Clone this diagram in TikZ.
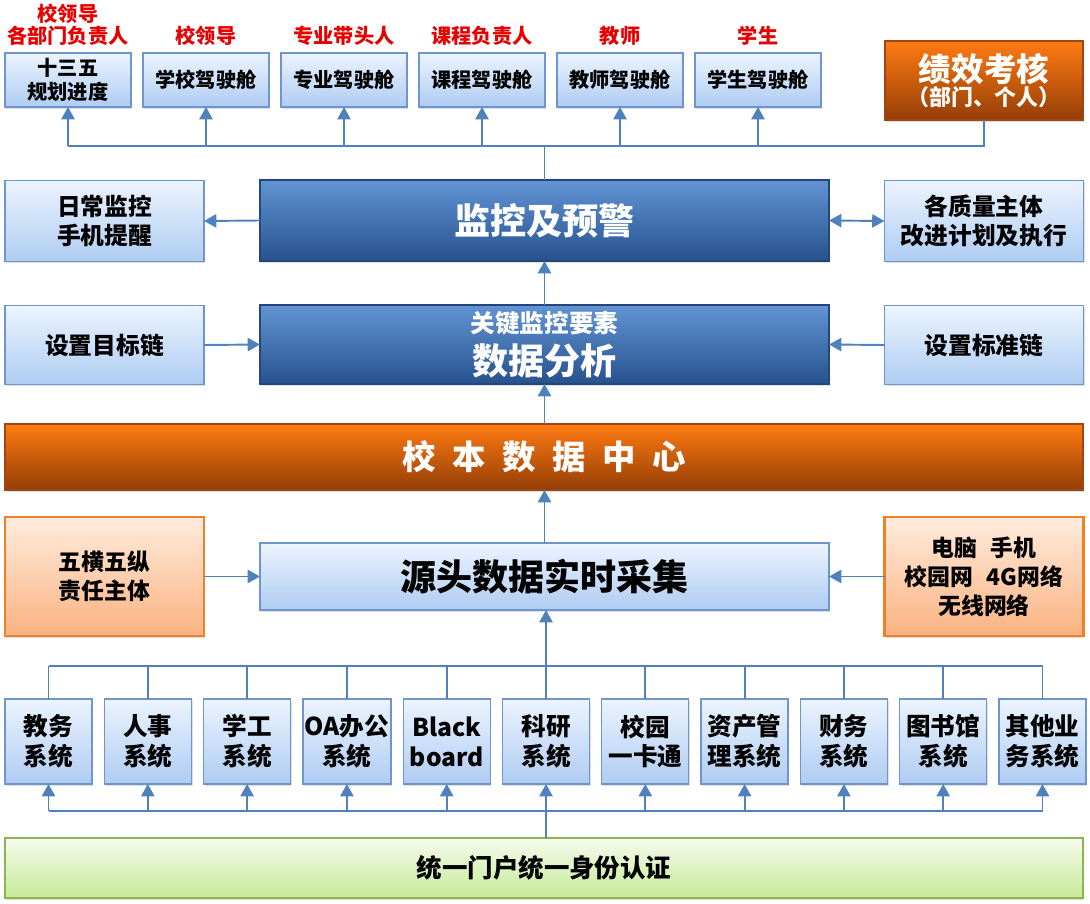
\documentclass[tikz,border=0pt]{standalone}
\usepackage{fontspec}
\setmainfont{Noto Sans CJK SC}
\usepackage{xcolor}
\usepackage{tikz}
\usetikzlibrary{positioning, arrows.meta, shadows}

\definecolor{paleTop}{RGB}{236,244,254}
\definecolor{paleBot}{RGB}{174,204,242}
\definecolor{paleEdge}{RGB}{110,150,205}
\definecolor{deepTop}{RGB}{98,148,212}
\definecolor{deepBot}{RGB}{38,82,142}
\definecolor{deepEdge}{RGB}{35,70,125}
\definecolor{rustTop}{RGB}{255,122,18}
\definecolor{rustBot}{RGB}{148,62,6}
\definecolor{rustEdge}{RGB}{160,70,20}
\definecolor{peachTop}{RGB}{255,236,222}
\definecolor{peachBot}{RGB}{250,178,128}
\definecolor{peachEdge}{RGB}{238,128,40}
\definecolor{limeTop}{RGB}{246,251,238}
\definecolor{limeBot}{RGB}{196,234,150}
\definecolor{limeEdge}{RGB}{140,180,80}
\definecolor{linkblue}{RGB}{79,129,189}
\definecolor{leadred}{RGB}{230,0,0}

\begin{document}
\begin{tikzpicture}[
        every node/.style={align=center, inner sep=1pt, outer sep=0pt},
        shadowed/.style={drop shadow={shadow xshift=0.7pt, shadow yshift=-0.9pt, opacity=0.25}},
        pale/.style={shadowed, draw=paleEdge, line width=0.7pt, top color=paleTop, bottom color=paleBot},
        deep/.style={shadowed, draw=deepEdge, line width=0.7pt, top color=deepTop, bottom color=deepBot,
            text=white, minimum width=11.38cm, font=\fontsize{20.5}{24}\selectfont\bfseries},
        rust/.style={shadowed, draw=rustEdge, line width=0.7pt, top color=rustTop, bottom color=rustBot, text=white},
        peach/.style={shadowed, draw=peachEdge, line width=1.2pt, top color=peachTop, bottom color=peachBot,
            minimum width=3.98cm, minimum height=2.38cm, font=\fontsize{13}{16.5}\selectfont\bfseries},
        lime/.style={shadowed, draw=limeEdge, line width=1pt, top color=limeTop, bottom color=limeBot},
        cockpit/.style={pale, minimum width=2.52cm, minimum height=1.08cm, font=\fontsize{11.5}{14}\selectfont\bfseries},
        side/.style={pale, minimum width=3.98cm, minimum height=1.62cm, font=\fontsize{13.5}{16.5}\selectfont\bfseries},
        sysbox/.style={pale, minimum width=1.74cm, minimum height=1.70cm, font=\fontsize{14}{17}\selectfont\bfseries},
        lead/.style={text=leadred, font=\fontsize{11.5}{12.5}\selectfont\bfseries},
        wire/.style={draw=linkblue, line width=1.1pt},
        feed/.style={wire, -{Triangle[length=7pt, width=7.5pt]}},
        twoway/.style={wire, {Triangle[length=7pt, width=7.5pt]}-{Triangle[length=7pt, width=7.5pt]}}
    ]
    \useasboundingbox (0,0) rectangle (21.8,-18.08);

    % Cockpits
    \node[cockpit] (plan) at (1.36,-1.60) {十三五\\规划进度};
    \node[cockpit, right=0.24cm of plan] (school) {学校驾驶舱};
    \node[cockpit, right=0.24cm of school] (major) {专业驾驶舱};
    \node[cockpit, right=0.24cm of major] (course) {课程驾驶舱};
    \node[cockpit, right=0.24cm of course] (teacher) {教师驾驶舱};
    \node[cockpit, right=0.24cm of teacher] (student) {学生驾驶舱};
    \node[rust, minimum width=3.96cm, minimum height=1.58cm] (kpi) at (19.68,-1.61)
        {{\fontsize{18.5}{22}\selectfont\bfseries 绩效考核}\\{\fontsize{12.5}{15}\selectfont\bfseries （部门、个人）}};

    % Owners
    \node[lead, above=0.12cm of plan] (leadplan) {校领导\\各部门负责人};
    \node[lead, above=0.12cm of school] (leadschool) {校领导};
    \node[lead, above=0.12cm of major] (leadmajor) {专业带头人};
    \node[lead, above=0.12cm of course] (leadcourse) {课程负责人};
    \node[lead, above=0.12cm of teacher] (leadteacher) {教师};
    \node[lead, above=0.12cm of student] (leadstudent) {学生};

    % Monitoring and analysis
    \node[deep, minimum height=1.62cm] (monitor) at (10.89,-4.41) {监控及预警};
    \node[side] (daily) at (2.09,-4.42) {日常监控\\手机提醒};
    \node[side] (improve) at (19.68,-4.42) {各质量主体\\改进计划及执行};
    \node[deep, minimum height=1.58cm] (analysis) at (10.89,-6.89)
        {{\fontsize{14}{16}\selectfont 关键监控要素}\\数据分析};
    \node[side, minimum height=1.58cm] (target) at (2.09,-6.90) {设置目标链};
    \node[side, minimum height=1.58cm] (standard) at (19.68,-6.90) {设置标准链};

    % Data center and collection
    \node[rust, minimum width=21.56cm, minimum height=1.32cm, font=\fontsize{19}{22}\selectfont\bfseries] (center) at (10.88,-9.14)
        {校\hspace{0.5em}本\hspace{0.5em}数\hspace{0.5em}据\hspace{0.5em}中\hspace{0.5em}心};
    \node[pale, minimum width=11.38cm, minimum height=1.34cm, font=\fontsize{20.5}{24}\selectfont\bfseries] (collect) at (10.89,-11.53) {源头数据实时采集};
    \node[peach] (duty) at (2.09,-11.53) {五横五纵\\责任主体};
    \node[peach] (device) at (19.68,-11.53) {电脑\hspace{0.6em}手机\\校园网\hspace{0.6em}4G网络\\无线网络};

    % Business systems
    \node[sysbox] (sys1) at (0.97,-14.83) {教务\\系统};
    \node[sysbox, right=0.246cm of sys1] (sys2) {人事\\系统};
    \node[sysbox, right=0.246cm of sys2] (sys3) {学工\\系统};
    \node[sysbox, right=0.246cm of sys3] (sys4) {OA办公\\系统};
    \node[sysbox, right=0.246cm of sys4] (sys5) {Black\\board};
    \node[sysbox, right=0.246cm of sys5] (sys6) {科研\\系统};
    \node[sysbox, right=0.246cm of sys6] (sys7) {校园\\一卡通};
    \node[sysbox, right=0.246cm of sys7] (sys8) {资产管\\理系统};
    \node[sysbox, right=0.246cm of sys8] (sys9) {财务\\系统};
    \node[sysbox, right=0.246cm of sys9] (sys10) {图书馆\\系统};
    \node[sysbox, right=0.246cm of sys10] (sys11) {其他业\\务系统};

    \node[lime, minimum width=21.56cm, minimum height=1.20cm, font=\fontsize{14.5}{17}\selectfont\bfseries] (portal) at (10.88,-17.36) {统一门户统一身份认证};

    \coordinate (topbus) at (0,-2.92);
    \coordinate (highbus) at (0,-13.32);
    \coordinate (lowbus) at (0,-16.22);

    % Arrows to cockpits
    \draw[wire] (monitor.north) -- (monitor.north |- topbus);
    \draw[wire] (plan.south |- topbus) -- (kpi.south |- topbus) -- (kpi.south);
    \draw[feed] (plan.south |- topbus) -- (plan.south);
    \draw[feed] (school.south |- topbus) -- (school.south);
    \draw[feed] (major.south |- topbus) -- (major.south);
    \draw[feed] (course.south |- topbus) -- (course.south);
    \draw[feed] (teacher.south |- topbus) -- (teacher.south);
    \draw[feed] (student.south |- topbus) -- (student.south);

    % Middle arrows
    \draw[feed] (monitor.west) -- (daily.east);
    \draw[twoway] (monitor.east) -- (improve.west);
    \draw[feed] (analysis.north) -- (monitor.south);
    \draw[feed] (target.east) -- (analysis.west);
    \draw[feed] (standard.west) -- (analysis.east);
    \draw[feed] (center.north -| analysis.south) -- (analysis.south);
    \draw[feed] (collect.north) -- (center.south -| collect.north);
    \draw[feed] (duty.east) -- (collect.west);
    \draw[feed] (device.west) -- (collect.east);

    % Systems up to collection
    \draw[wire] (sys1.north |- highbus) -- (sys11.north |- highbus);
    \draw[wire] (sys1.north) -- (sys1.north |- highbus);
    \draw[wire] (sys2.north) -- (sys2.north |- highbus);
    \draw[wire] (sys3.north) -- (sys3.north |- highbus);
    \draw[wire] (sys4.north) -- (sys4.north |- highbus);
    \draw[wire] (sys5.north) -- (sys5.north |- highbus);
    \draw[wire] (sys7.north) -- (sys7.north |- highbus);
    \draw[wire] (sys8.north) -- (sys8.north |- highbus);
    \draw[wire] (sys9.north) -- (sys9.north |- highbus);
    \draw[wire] (sys10.north) -- (sys10.north |- highbus);
    \draw[wire] (sys11.north) -- (sys11.north |- highbus);
    \draw[feed] (sys6.north) -- (collect.south -| sys6.north);

    % Portal down to systems
    \draw[wire] (sys1.south |- lowbus) -- (sys11.south |- lowbus);
    \draw[feed] (portal.north -| sys6.south) -- (sys6.south);
    \draw[feed] (sys1.south |- lowbus) -- (sys1.south);
    \draw[feed] (sys2.south |- lowbus) -- (sys2.south);
    \draw[feed] (sys3.south |- lowbus) -- (sys3.south);
    \draw[feed] (sys4.south |- lowbus) -- (sys4.south);
    \draw[feed] (sys5.south |- lowbus) -- (sys5.south);
    \draw[feed] (sys7.south |- lowbus) -- (sys7.south);
    \draw[feed] (sys8.south |- lowbus) -- (sys8.south);
    \draw[feed] (sys9.south |- lowbus) -- (sys9.south);
    \draw[feed] (sys10.south |- lowbus) -- (sys10.south);
    \draw[feed] (sys11.south |- lowbus) -- (sys11.south);

\end{tikzpicture}
\end{document}
